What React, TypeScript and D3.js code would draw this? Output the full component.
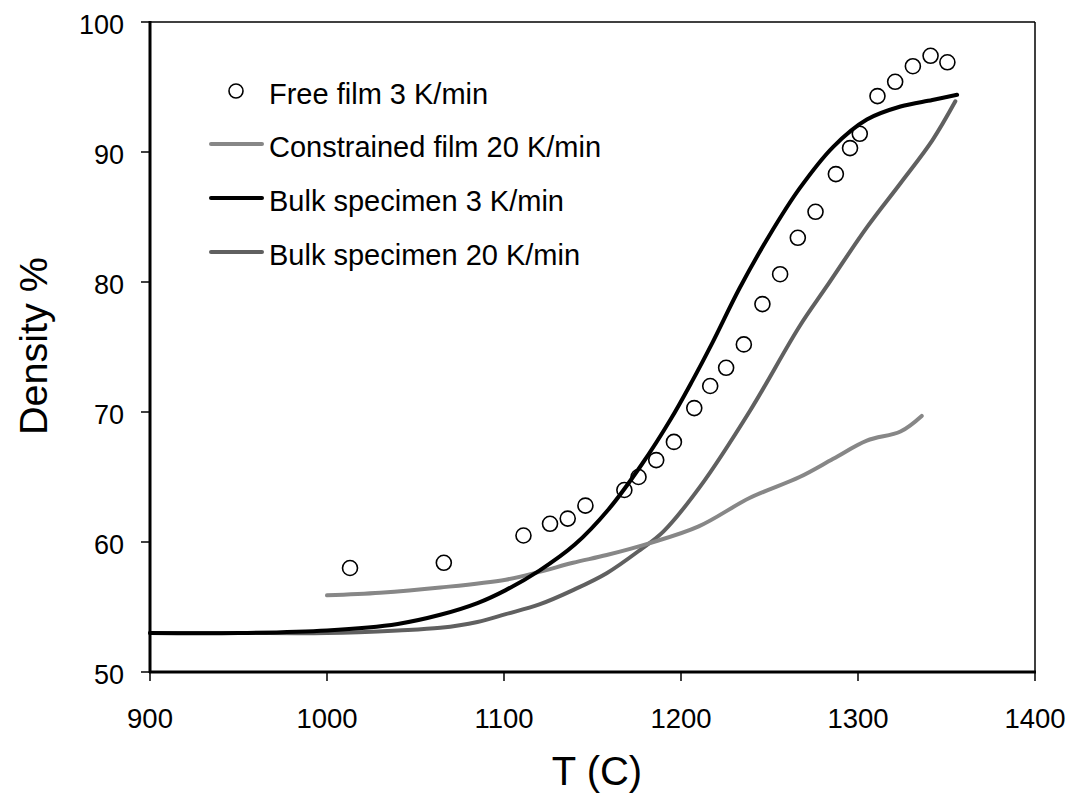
import React from "react";
import * as d3 from "d3";

const xTicks = [900, 1000, 1100, 1200, 1300, 1400];
const yTicks = [50, 60, 70, 80, 90, 100];

const freeFilmT = [1013, 1066, 1111, 1126, 1136, 1146, 1168, 1176, 1186, 1196, 1207.5, 1216.5, 1225.5, 1235.5, 1246, 1256, 1266, 1276, 1287.5, 1295.5, 1301, 1311, 1321, 1331, 1341, 1350.5];
const freeFilmD = [58.0, 58.4, 60.5, 61.4, 61.8, 62.8, 64.0, 65.0, 66.3, 67.7, 70.3, 72.0, 73.4, 75.2, 78.3, 80.6, 83.4, 85.4, 88.3, 90.3, 91.4, 94.3, 95.4, 96.6, 97.4, 96.9];

const constrainedT = [1000, 1030, 1064, 1101, 1120, 1139, 1158, 1182, 1210, 1239, 1267, 1286, 1305, 1324, 1336];
const constrainedD = [55.9, 56.1, 56.5, 57.1, 57.7, 58.4, 59.0, 59.9, 61.2, 63.4, 65.0, 66.4, 67.8, 68.5, 69.7];

const bulk3T = [900, 950, 1000, 1040, 1064, 1085, 1101, 1120, 1140, 1159, 1178, 1194, 1206, 1218, 1233, 1250, 1267, 1286, 1305, 1324, 1342, 1356];
const bulk3D = [53.0, 53.0, 53.2, 53.7, 54.4, 55.3, 56.3, 57.8, 59.8, 62.5, 66.0, 69.4, 72.3, 75.4, 79.5, 83.6, 87.2, 90.4, 92.5, 93.5, 94.0, 94.4];

const bulk20T = [900, 950, 1000, 1040, 1064, 1085, 1101, 1120, 1139, 1158, 1177, 1190, 1211, 1239, 1267, 1282, 1305, 1324, 1342, 1355];
const bulk20D = [53.0, 53.0, 53.0, 53.2, 53.4, 53.85, 54.45, 55.2, 56.3, 57.6, 59.4, 60.8, 64.3, 70.1, 76.6, 79.6, 84.2, 87.6, 90.9, 93.9];

const legendLabels = ["Free film 3 K/min", "Constrained film 20 K/min", "Bulk specimen 3 K/min", "Bulk specimen 20 K/min"];
const lineColors = { constrained: "#878787", bulk3: "#000000", bulk20: "#606060" };

export default function App() {
  const W = 1075, H = 801;
  const left = 150, right = 1035, top = 22, bottom = 672;
  const x = d3.scaleLinear().domain([900, 1400]).range([left, right]);
  const y = d3.scaleLinear().domain([50, 100]).range([bottom, top]);
  const font = "'Liberation Sans', Arial, sans-serif";

  const line = d3
    .line<[number, number]>()
    .x((d) => x(d[0]))
    .y((d) => y(d[1]))
    .curve(d3.curveCatmullRom.alpha(0.5));

  const zip = (a: number[], b: number[]) => a.map((v, i) => [v, b[i]] as [number, number]);

  const series = [
    { key: "bulk20", d: line(zip(bulk20T, bulk20D)), color: lineColors.bulk20 },
    { key: "constrained", d: line(zip(constrainedT, constrainedD)), color: lineColors.constrained },
    { key: "bulk3", d: line(zip(bulk3T, bulk3D)), color: lineColors.bulk3 },
  ];

  const legendMarkY = [91, 144, 198, 252];
  const legendBase = [104, 157, 211, 265];
  const legendColors = [null, lineColors.constrained, lineColors.bulk3, lineColors.bulk20];

  return (
    <svg width={W} height={H} style={{ position: "absolute", left: 0, top: 0, background: "#fff" }} fontFamily={font}>
      <rect x={0} y={0} width={W} height={H} fill="#fff" />
      <line x1={left} y1={top} x2={right} y2={top} stroke="#000" strokeWidth={1.5} />
      <line x1={right} y1={top} x2={right} y2={bottom} stroke="#000" strokeWidth={1.5} />

      {series.map((s) => (
        <path key={s.key} d={s.d || ""} fill="none" stroke={s.color} strokeWidth={4} strokeLinecap="round" strokeLinejoin="round" />
      ))}

      {freeFilmT.map((t, i) => (
        <circle key={i} cx={x(t)} cy={y(freeFilmD[i])} r={7.5} fill="none" stroke="#000" strokeWidth={1.6} />
      ))}

      <line x1={left} y1={top - 1} x2={left} y2={bottom + 1} stroke="#000" strokeWidth={3} />
      <line x1={left - 1} y1={bottom} x2={right + 1} y2={bottom} stroke="#000" strokeWidth={3} />

      {yTicks.map((t) => (
        <g key={t}>
          <line x1={left - 9} x2={left} y1={y(t)} y2={y(t)} stroke="#000" strokeWidth={1.5} />
          <text x={124} y={y(t) + 11.5} textAnchor="end" fontSize={27} fill="#000">
            {t}
          </text>
        </g>
      ))}
      {xTicks.map((t) => (
        <g key={t}>
          <line x1={x(t)} x2={x(t)} y1={bottom} y2={bottom + 9} stroke="#000" strokeWidth={1.5} />
          <text x={x(t)} y={728} textAnchor="middle" fontSize={27.5} fill="#000">
            {t}
          </text>
        </g>
      ))}

      <text x={597} y={785} textAnchor="middle" fontSize={40} fill="#000">
        T (C)
      </text>
      <text transform={`translate(47,346) rotate(-90)`} textAnchor="middle" fontSize={39.5} fill="#000">
        Density %
      </text>

      {legendLabels.map((lab, i) => (
        <g key={lab}>
          {i === 0 ? (
            <circle cx={236} cy={legendMarkY[i]} r={7} fill="none" stroke="#000" strokeWidth={1.6} />
          ) : (
            <line x1={211} x2={262} y1={legendMarkY[i]} y2={legendMarkY[i]} stroke={legendColors[i] as string} strokeWidth={4} strokeLinecap="round" />
          )}
          <text x={269} y={legendBase[i]} fontSize={29} fill="#000">
            {lab}
          </text>
        </g>
      ))}
    </svg>
  );
}
